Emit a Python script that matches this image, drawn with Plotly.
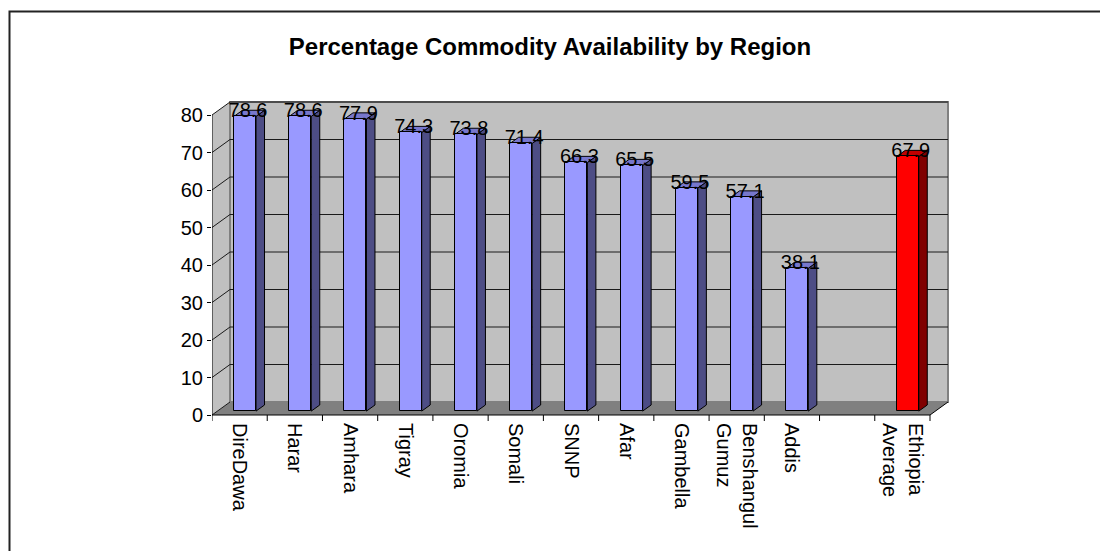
import plotly.graph_objects as go

# ---------------- data ----------------
categories = ["DireDawa", "Harar", "Amhara", "Tigray", "Oromia", "Somali", "SNNP",
              "Afar", "Gambella", "Benshangul<br>Gumuz", "Addis", " ", "Ethiopia<br>Average"]
values = [78.6, 78.6, 77.9, 74.3, 73.8, 71.4, 66.3, 65.5, 59.5, 57.1, 38.1, None, 67.9]
is_average = [False] * 11 + [False, True]
y_ticks = [0, 10, 20, 30, 40, 50, 60, 70, 80]
title_text = "Percentage Commodity Availability by Region"

# ---------------- geometry (pixel based) ----------------
W, H = 1100, 551
PL, PR, PT, PB = 212, 960, 95, 422      # plot area in px
FRONT_RIGHT = 930                        # px where the front floor edge ends
Y0_PX = 415                              # px of value 0 on the front axis
n = len(categories)
sx = (FRONT_RIGHT - PL) / n              # px per x unit
sy = 3.75                                # px per y unit
x_range = [0, (PR - PL) / sx]
y_range = [-(PB - Y0_PX) / sy, (Y0_PX - PT) / sy]

DX, DY = 18 / sx, 13 / sy                # depth of the 3-D box
bar_off_x, bar_base = 5.4 / sx, 3.9 / sy # bar front placed 30% into the depth
bar_w = 22 / sx
bdx, bdy = 8.5 / sx, 6.1 / sy            # depth of a bar
ymax = max(y_ticks)

FRONT = "#9999FF"; SIDE = "#4D4D85"; TOP = "#7777CC"
RFRONT = "#FF0000"; RSIDE = "#800000"; RTOP = "#C00000"

shapes = []
# left wall
shapes.append(dict(type="path", xref="x", yref="y", layer="below",
                   path=f"M 0,0 L 0,{ymax} L {DX},{ymax+DY} L {DX},{DY} Z",
                   fillcolor="#C0C0C0", line=dict(width=0)))
# back wall
shapes.append(dict(type="rect", xref="x", yref="y", layer="below",
                   x0=DX, x1=n + DX, y0=DY, y1=ymax + DY,
                   fillcolor="#C0C0C0", line=dict(color="#808080", width=2)))
# floor
shapes.append(dict(type="path", xref="x", yref="y", layer="below",
                   path=f"M 0,0 L {n},0 L {n+DX},{DY} L {DX},{DY} Z",
                   fillcolor="#808080", line=dict(width=0)))
# gridlines
for v in y_ticks:
    if v > 0:
        shapes.append(dict(type="line", xref="x", yref="y", layer="below",
                           x0=DX, x1=n + DX, y0=v + DY, y1=v + DY,
                           line=dict(color="#1a1a1a", width=1)))
    shapes.append(dict(type="line", xref="x", yref="y", layer="below",
                       x0=0, x1=DX, y0=v, y1=v + DY,
                       line=dict(color="#1a1a1a", width=1)))
# front axis lines
shapes.append(dict(type="line", xref="x", yref="y", layer="below",
                   x0=0, x1=0, y0=0, y1=ymax, line=dict(color="black", width=1)))
shapes.append(dict(type="line", xref="x", yref="y", layer="below",
                   x0=0, x1=n, y0=0, y1=0, line=dict(color="black", width=1)))
shapes.append(dict(type="line", xref="x", yref="y", layer="below",
                   x0=n, x1=n + DX, y0=0, y1=DY, line=dict(color="black", width=1)))
# category tick marks at slot boundaries
for k in range(n + 1):
    shapes.append(dict(type="line", xref="x", yref="y", layer="below",
                       x0=k, x1=k, y0=0, y1=-6 / sy, line=dict(color="black", width=1)))

# bar side and top faces
bx, by, bcol, texts, tx, ty = [], [], [], [], [], []
for i, v in enumerate(values):
    if v is None:
        continue
    red = is_average[i]
    xc = i + 0.5 + bar_off_x
    xl, xr = xc - bar_w / 2, xc + bar_w / 2
    b, t = bar_base, bar_base + v
    shapes.append(dict(type="path", xref="x", yref="y", layer="below",
                       path=f"M {xr},{b} L {xr},{t} L {xr+bdx},{t+bdy} L {xr+bdx},{b+bdy} Z",
                       fillcolor=RSIDE if red else SIDE, line=dict(color="black", width=1)))
    shapes.append(dict(type="path", xref="x", yref="y", layer="below",
                       path=f"M {xl},{t} L {xr},{t} L {xr+bdx},{t+bdy} L {xl+bdx},{t+bdy} Z",
                       fillcolor=RTOP if red else TOP, line=dict(color="black", width=1)))
    bx.append(xc); by.append(v)
    bcol.append(RFRONT if red else FRONT)
    texts.append(f"{v:.1f}")
    tx.append(xc + 3 / sx); ty.append(t + 4 / sy)

# figure border
shapes.append(dict(type="rect", xref="paper", yref="paper", layer="above",
                   x0=(9.5 - PL) / (PR - PL), x1=(1110 - PL) / (PR - PL),
                   y0=(PB - 560) / (PB - PT), y1=(PB - 11.5) / (PB - PT),
                   line=dict(color="#222222", width=2), fillcolor="rgba(0,0,0,0)"))

FONT = "Liberation Sans, Arial, sans-serif"
fig = go.Figure()
fig.add_trace(go.Bar(x=bx, y=by, base=bar_base, width=bar_w,
                     marker=dict(color=bcol, line=dict(color="black", width=1)),
                     hoverinfo="skip", showlegend=False))
fig.add_trace(go.Scatter(x=tx, y=ty, mode="text", text=texts,
                         textposition="middle center", cliponaxis=False,
                         textfont=dict(family=FONT, size=20, color="black"),
                         hoverinfo="skip", showlegend=False))

fig.update_layout(
    width=W, height=H,
    margin=dict(l=PL, r=W - PR, t=PT, b=H - PB, pad=0),
    paper_bgcolor="white", plot_bgcolor="white",
    title=dict(text=f"<b>{title_text}</b>", x=0.5, xref="container", xanchor="center",
               y=1 - 47 / H, yref="container", yanchor="middle",
               font=dict(family=FONT, size=24, color="black")),
    xaxis=dict(range=x_range, tickmode="array",
               tickvals=[i + 0.5 for i in range(n)], ticktext=categories,
               tickangle=90, ticks="", showgrid=False, zeroline=False, showline=False,
               tickfont=dict(family=FONT, size=20, color="black"), fixedrange=True),
    yaxis=dict(range=y_range, tickmode="array", tickvals=y_ticks,
               ticktext=[str(v) for v in y_ticks],
               ticks="outside", ticklen=4, tickcolor="black",
               showgrid=False, zeroline=False, showline=False,
               tickfont=dict(family=FONT, size=20, color="black"), fixedrange=True),
    shapes=shapes,
    bargap=0,
)

fig.write_html("out.html")
